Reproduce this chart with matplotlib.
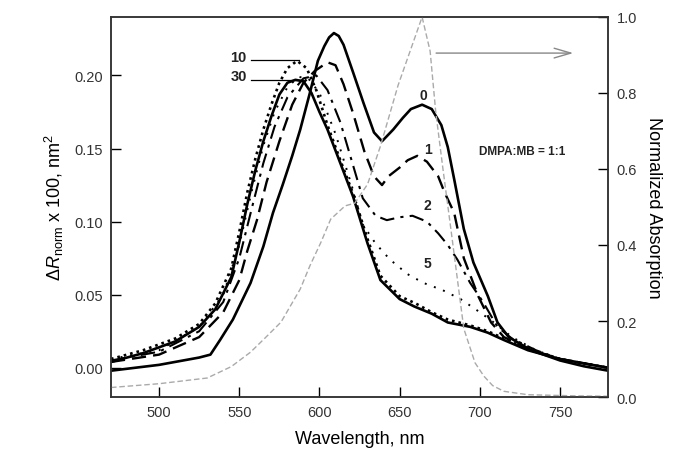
import numpy as np
import matplotlib
matplotlib.use('Agg')
import matplotlib.pyplot as plt

plt.rcParams['font.family'] = ['Liberation Sans', 'DejaVu Sans']
plt.rcParams['mathtext.fontset'] = 'custom'
plt.rcParams['mathtext.rm'] = 'Liberation Sans'
plt.rcParams['mathtext.it'] = 'Liberation Sans:italic'

# curve 0 (solid)
wl0 = [470, 500, 525, 532, 538, 546, 557, 565, 571, 577, 583, 588, 594, 599, 603, 606, 609, 612, 615, 621, 627.5, 634,
       639, 646, 652, 657, 664, 670, 676, 680, 684, 690, 696, 705, 711, 718, 732, 750, 765, 780]
r0 = [-0.002, 0.002, 0.007, 0.009, 0.019, 0.033, 0.058, 0.083, 0.106, 0.125, 0.145, 0.163, 0.188, 0.21, 0.22, 0.226,
      0.229, 0.227, 0.221, 0.202, 0.181, 0.161, 0.155, 0.163, 0.171, 0.177, 0.18, 0.177, 0.166, 0.151, 0.129, 0.095,
      0.072, 0.049, 0.031, 0.021, 0.012, 0.005, 0.001, -0.002]

# curve 1 (dashed)
wl1 = [470, 500, 525, 540, 550, 555, 561, 567, 575, 583, 590, 597, 605, 610, 615, 621, 628, 634, 639, 643, 650, 655,
       661, 667, 674, 678, 684, 690, 699, 707, 715, 730, 750, 765, 780]
r1 = [0.004, 0.009, 0.021, 0.038, 0.06, 0.08, 0.101, 0.127, 0.155, 0.18, 0.195, 0.203, 0.209, 0.207, 0.194, 0.174,
      0.148, 0.131, 0.125, 0.131, 0.137, 0.142, 0.145, 0.141, 0.131, 0.12, 0.106, 0.075, 0.049, 0.031, 0.021, 0.013,
      0.006, 0.003, 0.0]

# curve 2 (dash-dot)
wl2 = [470, 500, 525, 540, 550, 558, 565, 572, 580, 590, 598, 605, 613, 620, 627, 635, 642, 650, 658, 667, 674, 680,
       686, 694, 702, 711, 720, 735, 750, 765, 780]
r2 = [0.005, 0.011, 0.025, 0.045, 0.075, 0.11, 0.14, 0.165, 0.185, 0.198, 0.2, 0.19, 0.168, 0.142, 0.116, 0.104,
      0.101, 0.103, 0.104, 0.1, 0.092, 0.084, 0.074, 0.058, 0.045, 0.028, 0.02, 0.012, 0.006, 0.003, 0.0]

# curve 5 (dotted)
wl5 = [470, 500, 525, 540, 550, 558, 565, 572, 580, 587, 593, 600, 610, 620, 627, 635, 644, 655, 665, 677, 688, 700,
       710, 720, 735, 750, 765, 780]
r5 = [0.006, 0.012, 0.028, 0.05, 0.084, 0.122, 0.152, 0.175, 0.192, 0.199, 0.198, 0.188, 0.16, 0.125, 0.098, 0.085,
      0.074, 0.064, 0.058, 0.053, 0.047, 0.038, 0.03, 0.021, 0.012, 0.006, 0.003, 0.0]

# curve 10 (fine dots)
wl10 = [470, 490, 510, 525, 535, 545, 550, 555, 560, 565, 570, 575, 580, 586, 592, 598, 605, 613, 621, 630, 638, 650,
        660, 670, 680, 694, 705, 715, 730, 750, 765, 780]
r10 = [0.006, 0.012, 0.02, 0.03, 0.044, 0.068, 0.093, 0.12, 0.143, 0.163, 0.18, 0.195, 0.205, 0.21, 0.205, 0.19,
       0.166, 0.142, 0.119, 0.088, 0.063, 0.049, 0.044, 0.038, 0.033, 0.029, 0.025, 0.02, 0.013, 0.006, 0.003, 0.0]

# curve 30 (solid)
wl30 = [470, 490, 510, 525, 535, 545, 550, 555, 560, 565, 570, 575, 580, 585, 590, 595, 600, 605, 613, 621, 630, 638,
        650, 659, 670, 680, 694, 705, 715, 730, 750, 765, 780]
r30 = [0.004, 0.01, 0.018, 0.028, 0.04, 0.062, 0.086, 0.112, 0.135, 0.155, 0.172, 0.187, 0.195, 0.197, 0.196, 0.188,
       0.175, 0.163, 0.14, 0.117, 0.085, 0.06, 0.047, 0.042, 0.037, 0.031, 0.028, 0.024, 0.019, 0.012, 0.006, 0.003, 0.0]

# normalized absorption (gray dashed, right axis)
wla = [470, 500, 530, 545, 557, 566, 576, 588, 594, 601, 607, 616, 622, 630, 638, 649, 659, 664, 669, 672.5, 677, 682,
       690, 697, 702.5, 708, 715, 730, 760, 780]
absn = [0.025, 0.035, 0.05, 0.08, 0.118, 0.155, 0.197, 0.284, 0.345, 0.408, 0.468, 0.503, 0.51, 0.56, 0.66, 0.82,
        0.94, 1.0, 0.91, 0.75, 0.6, 0.44, 0.18, 0.09, 0.055, 0.03, 0.015, 0.006, 0.003, 0.002]

fig = plt.figure(figsize=(6.81, 4.77), dpi=100)
ax = fig.add_axes([0.163, 0.1656, 0.730, 0.7967])

ax.plot(wl0, r0, color='black', lw=1.9, ls='-')
ax.plot(wl1, r1, color='black', lw=1.7, dashes=(6, 3))
ax.plot(wl2, r2, color='black', lw=1.5, dashes=(7, 3, 1.5, 3))
ax.plot(wl5, r5, color='black', lw=1.4, dashes=(1, 4))
ax.plot(wl10, r10, color='black', lw=1.9, dashes=(1, 1.5))
ax.plot(wl30, r30, color='black', lw=1.9, ls='-')

ax.set_xlim(470, 780)
ax.set_ylim(-0.02, 0.24)
ax.set_xticks([500, 550, 600, 650, 700, 750])
ax.set_yticks([0.00, 0.05, 0.10, 0.15, 0.20])
ax.yaxis.set_major_formatter(matplotlib.ticker.FormatStrFormatter('%.2f'))
ax.tick_params(direction='in', length=7, width=1, labelsize=10.5, labelcolor='#333333', pad=6)
ax.set_xlabel('Wavelength, nm', fontsize=13, labelpad=8)
ax.set_ylabel(r'$\Delta\mathit{R}_{\rm norm}$ x 100, nm$^2$', fontsize=13, labelpad=6)

for s in ax.spines.values():
    s.set_linewidth(1.1)
    s.set_color('#333333')

# curve labels
ax.text(549.5, 0.2125, '10', fontsize=10.5, fontweight='bold', ha='center', va='center', color='#222222')
ax.plot([557, 587], [0.2103, 0.2103], color='black', lw=0.9)
ax.text(549.5, 0.1995, '30', fontsize=10.5, fontweight='bold', ha='center', va='center', color='#222222')
ax.plot([557, 589], [0.1966, 0.1966], color='black', lw=0.9)
ax.text(665, 0.1865, '0', fontsize=10, fontweight='bold', ha='center', va='center', color='#222222')
ax.text(667.5, 0.150, '1', fontsize=10, fontweight='bold', ha='center', va='center', color='#222222')
ax.text(667.5, 0.1115, '2', fontsize=10, fontweight='bold', ha='center', va='center', color='#222222')
ax.text(667.5, 0.0715, '5', fontsize=10, fontweight='bold', ha='center', va='center', color='#222222')
ax.text(699.5, 0.1485, 'DMPA:MB = 1:1', fontsize=8.5, fontweight='bold', ha='left', va='center', color='#222222')

ax2 = ax.twinx()
ax2.plot(wla, absn, color='#aaaaaa', lw=1.0, dashes=(4, 2))
ax2.set_ylim(0, 1.0)
ax2.set_yticks([0.0, 0.2, 0.4, 0.6, 0.8, 1.0])
ax2.yaxis.set_major_formatter(matplotlib.ticker.FormatStrFormatter('%.1f'))
ax2.tick_params(direction='in', length=7, width=1, labelsize=10.5, labelcolor='#333333', pad=6)
ax2.set_ylabel('Normalized Absorption', fontsize=13, rotation=270, labelpad=18)
for s in ax2.spines.values():
    s.set_linewidth(1.1)
    s.set_color('#333333')

ax2.annotate('', xy=(760, 0.905), xytext=(671, 0.905),
             arrowprops=dict(arrowstyle='->,head_length=1.2,head_width=0.35', color='#888888', lw=1.0))

fig.savefig('out.png', dpi=100)
